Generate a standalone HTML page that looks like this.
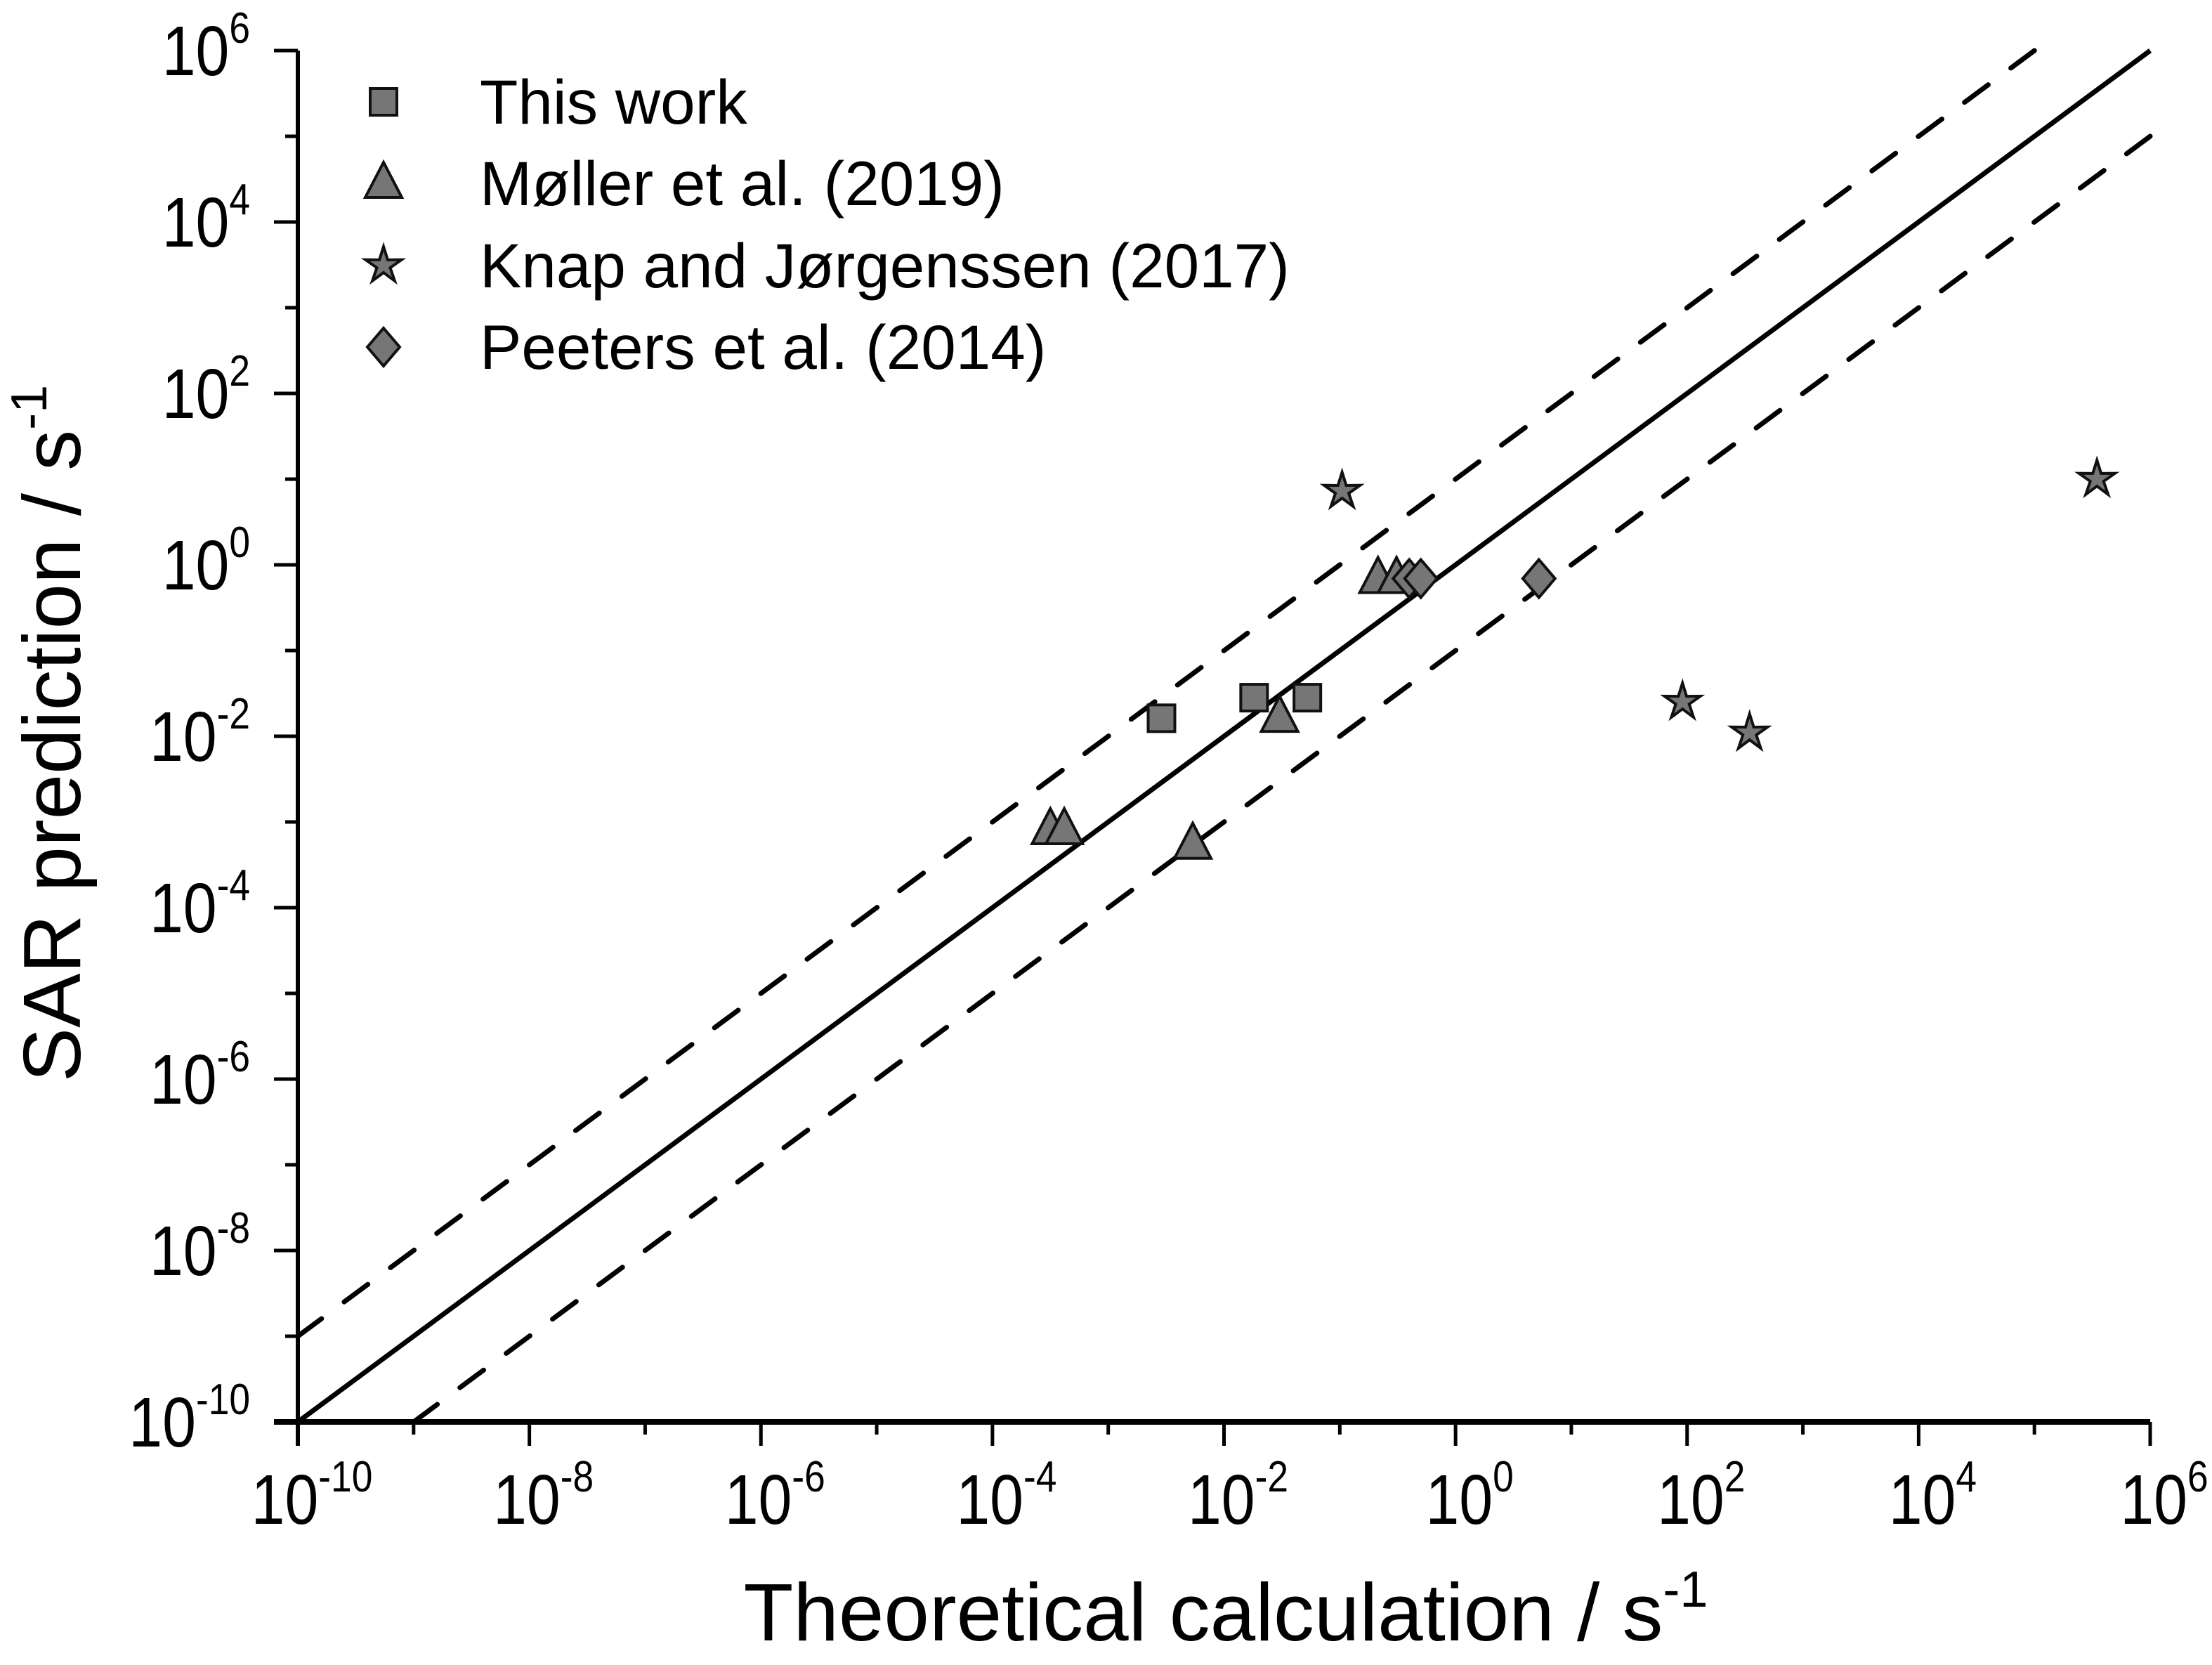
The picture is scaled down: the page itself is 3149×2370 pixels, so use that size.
<!DOCTYPE html>
<html><head><meta charset="utf-8"><style>
html,body{margin:0;padding:0;background:#fff;}
svg{display:block;font-family:"Liberation Sans",Arial,sans-serif;}
</style></head><body>
<svg id="chart" width="3149" height="2370" viewBox="0 0 3149 2370" xmlns="http://www.w3.org/2000/svg">
<g id="lines"></g>
<g id="axes"></g>
<g id="marks"></g>
<g id="legend"></g>
<text x="1745" y="2335" font-size="116" text-anchor="middle">Theoretical calculation / s<tspan dy="-48" font-size="72">-1</tspan></text>
<text transform="translate(114,1044) rotate(-90)" font-size="116" text-anchor="middle">SAR prediction / s<tspan dy="-48" font-size="72">-1</tspan></text>
</svg>
<script>
const seriesNames = ["This work","Møller et al. (2019)","Knap and Jørgenssen (2017)","Peeters et al. (2014)"];
const squareX = [-2.54,-1.74,-1.28];
const squareY = [-1.79,-1.55,-1.55];
const triangleX = [-3.5,-3.38,-2.27,-1.52,-0.67,-0.51];
const triangleY = [-3.09,-3.09,-3.26,-1.78,-0.16,-0.16];
const starX = [-0.98,1.96,2.54,5.54];
const starY = [0.86,-1.6,-1.96,1.0];
const diamondX = [-0.4,-0.3,0.72];
const diamondY = [-0.16,-0.16,-0.16];
const tickExps = [-10,-8,-6,-4,-2,0,2,4,6];

const NS="http://www.w3.org/2000/svg";
const X0=424,X1=3061,Y0=2024,Y1=72,LMIN=-10,LMAX=6;
const sx=v=>X0+(v-LMIN)/(LMAX-LMIN)*(X1-X0);
const sy=v=>Y0-(v-LMIN)/(LMAX-LMIN)*(Y0-Y1);
function mk(tag,attrs,parent){const e=document.createElementNS(NS,tag);for(const k in attrs)e.setAttribute(k,attrs[k]);parent.appendChild(e);return e;}
const axes=document.getElementById('axes'),lines=document.getElementById('lines'),marks=document.getElementById('marks'),legend=document.getElementById('legend');

let l=mk('line',{x1:sx(-10),y1:sy(-10),x2:sx(6),y2:sy(6),stroke:'#000','stroke-width':7},lines);


l=mk('line',{x1:sx(-10),y1:sy(-9),x2:sx(5),y2:sy(6),stroke:'#000','stroke-width':7,'stroke-dasharray':'42 40','stroke-linecap':'round'},lines);


l=mk('line',{x1:sx(-9),y1:sy(-10),x2:sx(6),y2:sy(5),stroke:'#000','stroke-width':7,'stroke-dasharray':'42 40','stroke-linecap':'round'},lines);



l=mk('line',{x1:X0-34,y1:Y0,x2:X1,y2:Y0,stroke:'#000','stroke-width':8},axes);


l=mk('line',{x1:X0,y1:Y0+34,x2:X0,y2:Y1,stroke:'#000','stroke-width':6},axes);


for(let d=LMIN;d<=LMAX;d++){
  const major=(d%2===0);const len=major?34:18;
  let t=mk('line',{x1:sx(d),y1:Y0,x2:sx(d),y2:Y0+len,stroke:'#000','stroke-width':5},axes);
  
  
  t=mk('line',{x1:X0,y1:sy(d),x2:X0-len,y2:sy(d),stroke:'#000','stroke-width':5},axes);
  
  
}
tickExps.forEach(e=>{
  let t=mk('text',{x:0,y:0,'font-size':100,'text-anchor':'middle',transform:`translate(${sx(e)+20},${Y0+145}) scale(0.86,1)`},axes);
  
  
  t.innerHTML='10<tspan dy="-46" font-size="62">'+e+'</tspan>';
  t=mk('text',{x:0,y:0,'font-size':100,'text-anchor':'end',transform:`translate(356,${sy(e)+35}) scale(0.86,1)`},axes);
  
  
  t.innerHTML='10<tspan dy="-46" font-size="62">'+e+'</tspan>';
});

const FILL='#767676',ST='#111';
function square(x,y,p){return mk('rect',{x:x-19,y:y-19,width:38,height:38,fill:FILL,stroke:ST,'stroke-width':4},p);}
function tri(x,y,p){return mk('polygon',{points:`${x},${y-30} ${x-26},${y+20} ${x+26},${y+20}`,fill:FILL,stroke:ST,'stroke-width':4},p);}
function star(x,y,p){let pts=[];for(let i=0;i<10;i++){const r=i%2?10:27;const a=-Math.PI/2+i*Math.PI/5;pts.push((x+r*Math.cos(a)).toFixed(1)+','+(y+r*Math.sin(a)).toFixed(1));}return mk('polygon',{points:pts.join(' '),fill:FILL,stroke:ST,'stroke-width':4},p);}
function diamond(x,y,p){return mk('polygon',{points:`${x},${y-27} ${x+23},${y} ${x},${y+27} ${x-23},${y}`,fill:FILL,stroke:ST,'stroke-width':4},p);}
const sets=[[squareX,squareY,square,'square-point'],[triangleX,triangleY,tri,'triangle-point'],[starX,starY,star,'star-point'],[diamondX,diamondY,diamond,'diamond-point']];
sets.forEach(s=>{s[0].forEach((v,i)=>{const m=s[2](sx(v),sy(s[1][i]),marks);
  
  });});

const rows=[145,261,378,494];
seriesNames.forEach((n,i)=>{
  const m=sets[i][2](546,rows[i],legend);
  
  
  const t=mk('text',{x:683,y:rows[i]+31,'font-size':89},legend);
  
  
  t.textContent=n;
});
</script>
</body></html>
